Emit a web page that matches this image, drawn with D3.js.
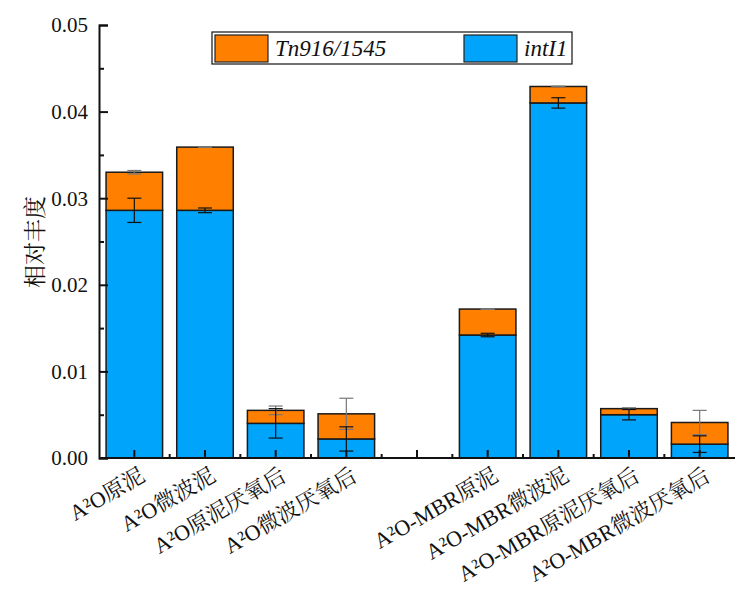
<!DOCTYPE html>
<html>
<head>
<meta charset="utf-8">
<script src="https://cdn.jsdelivr.net/npm/d3@7"></script>
<style>
  body { margin: 0; background: #fff; }
  svg { display: block; }
</style>
</head>
<body>
<div id="chart"></div>
<script>
// categories (empty slot separates the two processes)
const categories = ["A²O原泥", "A²O微波泥", "A²O原泥厌氧后", "A²O微波厌氧后", "",
  "A²O-MBR原泥", "A²O-MBR微波泥", "A²O-MBR原泥厌氧后", "A²O-MBR微波厌氧后"];

// intI1 (bottom) and Tn916/1545 (stacked on top)
const intI1 = [0.0286, 0.0286, 0.0040, 0.0022, null, 0.0142, 0.0410, 0.0050, 0.0016];
const tn916 = [0.0044, 0.0073, 0.0015, 0.0029, null, 0.0030, 0.0019, 0.0007, 0.0025];
const intI1Err = [0.0014, 0.00027, 0.0017, 0.0014, null, 0.0002, 0.0006, 0.0006, 0.00096];
const tn916Err = [0.0002, 0.00004, 0.0005, 0.0018, null, 0.00004, 0.00004, 0.0001, 0.0014];

const yTicks = [0, 0.01, 0.02, 0.03, 0.04, 0.05];
const yMinor = [0.005, 0.015, 0.025, 0.035, 0.045];

// one family per element (latin serif / CJK serif)
const LATIN = "Liberation Serif";
const CJK = "Noto Serif CJK SC";
const width = 739, height = 593;
const margin = {left: 99, top: 25, right: 4, bottom: 135};

const svg = d3.select("#chart").append("svg")
    .attr("width", width)
    .attr("height", height);

// scales
let x = d3.scaleBand()
    .domain(d3.range(categories.length))
    .range([margin.left, width - margin.right])
    .paddingInner(0.2)
    .paddingOuter(0.1);

let y = d3.scaleLinear()
    .domain([0, 0.05])
    .range([height - margin.bottom, margin.top]);

const y0 = y(0);
const colorTn = "#FF8000", colorInt = "#00A4FA";

// bars: intI1 first, then Tn916 on top
const bars = svg.append("g");
categories.forEach(function(c, i) {
    if (intI1[i] == null) return;
    bars.append("rect")
        .attr("x", x(i))
        .attr("y", y(intI1[i]))
        .attr("width", x.bandwidth())
        .attr("height", y0 - y(intI1[i]))
        .attr("fill", colorInt)
        .attr("stroke", "#1a1a1a")
        .attr("stroke-width", 1.5);
    bars.append("rect")
        .attr("x", x(i))
        .attr("y", y(intI1[i] + tn916[i]))
        .attr("width", x.bandwidth())
        .attr("height", y(intI1[i]) - y(intI1[i] + tn916[i]))
        .attr("fill", colorTn)
        .attr("stroke", "#1a1a1a")
        .attr("stroke-width", 1.5);
});

// error bars
function errBar(g, cx, v, e, col) {
    const capW = 7;
    g.append("line").attr("x1", cx).attr("x2", cx)
        .attr("y1", y(v + e)).attr("y2", y(v - e))
        .attr("stroke", col).attr("stroke-width", 1.2);
    [v + e, v - e].forEach(function(t) {
        g.append("line").attr("x1", cx - capW).attr("x2", cx + capW)
            .attr("y1", y(t)).attr("y2", y(t))
            .attr("stroke", col).attr("stroke-width", 1.2);
    });
}
const errs = svg.append("g");
categories.forEach(function(c, i) {
    if (intI1[i] == null) return;
    const cx = x(i) + x.bandwidth() / 2;
    errBar(errs, cx, intI1[i] + tn916[i], tn916Err[i], "#777");
    errBar(errs, cx, intI1[i], intI1Err[i], "#111");
});

// y axis
const yAxis = svg.append("g").attr("transform", `translate(${margin.left},0)`);
yAxis.call(d3.axisRight(y).tickValues(yTicks).tickSize(9).tickFormat(""));
yAxis.append("g").call(d3.axisRight(y).tickValues(yMinor).tickSize(5).tickFormat(""));
yAxis.selectAll("path").attr("stroke", "#111").attr("stroke-width", 2);
yAxis.selectAll(".tick line").attr("stroke", "#111").attr("stroke-width", 2);
yAxis.selectAll("g > g > path").remove();

svg.append("g").selectAll("text").data(yTicks).enter()
    .append("text")
    .attr("x", margin.left - 11)
    .attr("y", function(d) { return y(d); })
    .attr("dy", "0.35em")
    .attr("font-family", LATIN)
    .attr("font-size", 21)
    .attr("fill", "#111")
    .style("text-anchor", "end")
    .text(function(d) { return d3.format(".2f")(d); });

// x axis
const xAxis = svg.append("g").attr("transform", `translate(0,${y0})`);
xAxis.append("line")
    .attr("x1", margin.left).attr("x2", width - margin.right)
    .attr("stroke", "#111").attr("stroke-width", 2);
xAxis.selectAll(".major").data(categories.map(function(c, i) { return i; })).enter()
    .append("line")
    .attr("x1", function(i) { return x(i) + x.bandwidth() / 2; })
    .attr("x2", function(i) { return x(i) + x.bandwidth() / 2; })
    .attr("y1", 0).attr("y2", -8)
    .attr("stroke", "#111").attr("stroke-width", 2);
xAxis.selectAll(".minor").data(d3.range(1, categories.length)).enter()
    .append("line")
    .attr("x1", function(i) { return x(i) - x.step() * x.paddingInner() / 2; })
    .attr("x2", function(i) { return x(i) - x.step() * x.paddingInner() / 2; })
    .attr("y1", 0).attr("y2", -4)
    .attr("stroke", "#111").attr("stroke-width", 2);

// rotated category labels: latin prefix + CJK suffix
let labels = svg.append("g").selectAll("text").data(categories).enter()
    .append("text")
    .attr("transform", function(d, i) {
        return `translate(${x(i) + x.bandwidth() / 2 + 12},${y0 + 22}) rotate(-30)`;
    })
    .attr("font-size", 22)
    .attr("fill", "#111")
    .style("text-anchor", "end");
labels.each(function(d) {
    const m = d.match(/^([A-Za-z0-9²\-]*)(.*)$/);
    const t = d3.select(this);
    t.append("tspan").attr("font-family", LATIN).text(m[1]);
    t.append("tspan").attr("font-family", CJK).text(m[2]);
});

// y axis title
svg.append("text")
    .attr("transform", `translate(43,242) rotate(-90)`)
    .attr("font-family", CJK)
    .attr("font-size", 23)
    .attr("fill", "#111")
    .style("text-anchor", "middle")
    .text("相对丰度");

// legend
const legend = svg.append("g");
legend.append("rect")
    .attr("x", 212).attr("y", 32).attr("width", 360).attr("height", 32)
    .attr("fill", "#fff").attr("stroke", "#111").attr("stroke-width", 1.2);
const legendItems = [
    {name: "Tn916/1545", color: colorTn, x: 215},
    {name: "intI1", color: colorInt, x: 464}
];
legendItems.forEach(function(d) {
    legend.append("rect")
        .attr("x", d.x).attr("y", 35).attr("width", 53).attr("height", 27)
        .attr("fill", d.color).attr("stroke", "#222").attr("stroke-width", 1.2);
    legend.append("text")
        .attr("x", d.x + 60).attr("y", 56)
        .attr("font-family", LATIN)
        .attr("font-size", 23)
        .attr("font-style", "italic")
        .attr("fill", "#111")
        .text(d.name);
});
</script>
</body>
</html>
